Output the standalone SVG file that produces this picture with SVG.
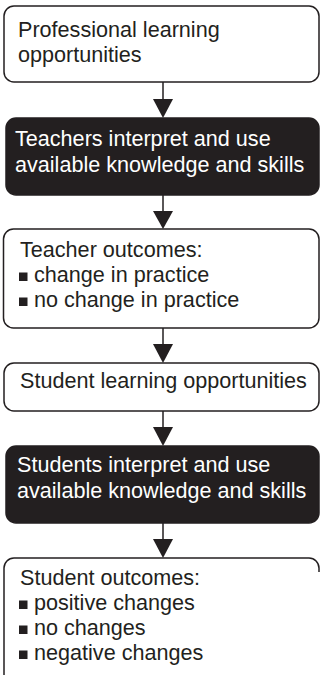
<svg xmlns="http://www.w3.org/2000/svg" width="320" height="675" viewBox="0 0 320 675">
<style>
.box{fill:#fff;stroke:#231f20;stroke-width:1.5}
.dark{fill:#231f20;stroke:#231f20;stroke-width:1.5}
.t{font-family:"Liberation Sans",Arial,sans-serif;font-size:21.6px;fill:#231f20}
.w{fill:#fff}
.bul{fill:#231f20}
.con line{stroke:#231f20;stroke-width:1.5}
.con polygon{fill:#231f20}
</style>
<rect width="320" height="675" fill="#fff"/>
<g id="n1">
<rect class="box" x="4" y="6" width="315" height="76" rx="10"/>
<text class="t" x="18" y="37">Professional learning</text>
<text class="t" x="18" y="62">opportunities</text>
</g>
<g id="n2">
<rect class="dark" x="6" y="118" width="313" height="77" rx="10"/>
<text class="t w" x="15" y="146">Teachers interpret and use</text>
<text class="t w" x="15" y="172">available knowledge and skills</text>
</g>
<g id="n3">
<rect class="box" x="3.5" y="229" width="315.5" height="99" rx="10"/>
<text class="t" x="20" y="257">Teacher outcomes:</text>
<rect class="bul" x="19" y="272.5" width="8.5" height="8.5"/>
<text class="t" x="34" y="282">change in practice</text>
<rect class="bul" x="19" y="297.5" width="8.5" height="8.5"/>
<text class="t" x="34" y="307">no change in practice</text>
</g>
<g id="n4">
<rect class="box" x="4" y="363" width="315" height="48" rx="10"/>
<text class="t" x="20" y="388">Student learning opportunities</text>
</g>
<g id="n5">
<rect class="dark" x="6" y="446" width="313" height="77" rx="10"/>
<text class="t w" x="17" y="472">Students interpret and use</text>
<text class="t w" x="17" y="498">available knowledge and skills</text>
</g>
<g id="n6">
<path class="box" d="M4,690 V568 A10,10 0 0 1 14,558 H309 A10,10 0 0 1 319,568 V572"/>
<text class="t" x="20" y="585">Student outcomes:</text>
<rect class="bul" x="19" y="600.5" width="8.5" height="8.5"/>
<text class="t" x="34" y="610">positive changes</text>
<rect class="bul" x="19" y="625.5" width="8.5" height="8.5"/>
<text class="t" x="34" y="635">no changes</text>
<rect class="bul" x="19" y="650.5" width="8.5" height="8.5"/>
<text class="t" x="34" y="660">negative changes</text>
</g>
<g id="connectors" class="con">
<line x1="163" y1="82" x2="163" y2="100"/><polygon points="153,99 173,99 163,118"/>
<line x1="163" y1="195" x2="163" y2="212"/><polygon points="153,211 173,211 163,229"/>
<line x1="163" y1="328" x2="163" y2="345"/><polygon points="153,344 173,344 163,363"/>
<line x1="163" y1="411" x2="163" y2="428"/><polygon points="153,427 173,427 163,446"/>
<line x1="163" y1="523" x2="163" y2="540"/><polygon points="153,539 173,539 163,558"/>
</g>
</svg>
